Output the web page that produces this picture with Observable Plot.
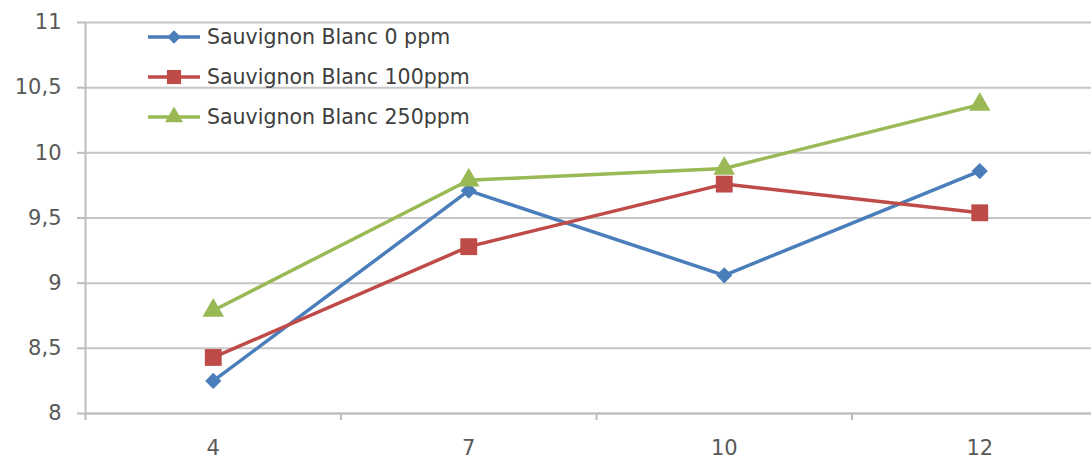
<!DOCTYPE html>
<html>
<head>
<meta charset="utf-8">
<script src="https://cdn.jsdelivr.net/npm/d3@7"></script>
<script src="https://cdn.jsdelivr.net/npm/@observablehq/plot@0.6"></script>
<style>
  html, body { margin: 0; padding: 0; background: #fff; overflow: hidden; }
  #wrap { position: relative; width: 1091px; height: 462px; overflow: hidden; }
  #legend { position: absolute; left: 0; top: 0; font-family: "DejaVu Sans", sans-serif; font-size: 20.5px; color: #404040; }
  .item { position: absolute; white-space: nowrap; }
</style>
</head>
<body>
<div id="wrap"><div id="legend"></div></div>
<script>
const categories = ["4", "7", "10", "12"];
const blanc0 = [8.25, 9.71, 9.06, 9.86];
const blanc100 = [8.43, 9.28, 9.76, 9.54];
const blanc250 = [8.79, 9.79, 9.88, 10.37];
const seriesNames = ["Sauvignon Blanc 0 ppm", "Sauvignon Blanc 100ppm", "Sauvignon Blanc 250ppm"];
const yTicks = [8, 8.5, 9, 9.5, 10, 10.5, 11];

const colors = ["#4a7ebb", "#be4b48", "#98b954"];
const symbols = ["diamond2", "square", "triangle"];
const radii = [7.3, 9.5, 8];
const d3Symbols = [d3.symbolDiamond2, d3.symbolSquare, d3.symbolTriangle];

const seriesValues = [blanc0, blanc100, blanc250];
const rows = seriesValues.map((vals, s) => vals.map((v, i) => ({i, cat: categories[i], value: v, series: seriesNames[s]})));

const boundaries = d3.range(-0.5, categories.length, 1);
const marks = [
  Plot.gridY(yTicks, {stroke: "#c6c6c6", strokeOpacity: 1, strokeWidth: 2}),
  Plot.ruleY([8], {stroke: "#bdbdbd", strokeWidth: 2}),
  Plot.ruleX([-0.5], {y1: 8, y2: 11, stroke: "#bdbdbd", strokeWidth: 2}),
  Plot.axisY({ticks: yTicks, tickFormat: d => String(d).replace(".", ","), tickSize: 8, tickPadding: 16, fontSize: 21, color: "#595959", stroke: "#bdbdbd", strokeWidth: 2, label: null}),
  Plot.axisX({ticks: boundaries, tickFormat: () => "", tickSize: 7, stroke: "#bdbdbd", strokeWidth: 2, label: null}),
  Plot.axisX({ticks: d3.range(categories.length), tickFormat: i => categories[i], tickSize: 0, tickPadding: 27, fontSize: 21, color: "#595959", label: null})
];
rows.forEach((r, s) => {
  marks.push(Plot.line(r, {x: "i", y: "value", stroke: colors[s], strokeWidth: 3.5}));
  marks.push(Plot.dot(r, {x: "i", y: "value", symbol: () => symbols[s], fill: colors[s], stroke: "none", r: radii[s]}));
});

const chart = Plot.plot({
  width: 1091,
  height: 462,
  marginLeft: 85,
  marginRight: 0,
  marginTop: 22,
  marginBottom: 49,
  x: {type: "linear", domain: [-0.5, 3.5], range: [85, 1107]},
  y: {domain: [8, 11]},
  symbol: {type: "ordinal", domain: symbols, range: symbols},
  style: {fontFamily: "DejaVu Sans, sans-serif", background: "white", overflow: "hidden"},
  marks
});
document.getElementById("wrap").insertBefore(chart, document.getElementById("legend"));

const legend = document.getElementById("legend");
const legendY = [36, 76, 116];
seriesNames.forEach((name, s) => {
  const item = document.createElement("div");
  item.className = "item";
  item.style.left = "148px";
  item.style.top = (legendY[s] - 12) + "px";
  const svg = d3.create("svg").attr("width", 56).attr("height", 24).style("vertical-align", "middle");
  svg.append("line").attr("x1", 0).attr("x2", 52).attr("y1", 12).attr("y2", 12).attr("stroke", colors[s]).attr("stroke-width", 3.5);
  svg.append("path").attr("transform", "translate(26,12)").attr("d", d3.symbol(d3Symbols[s], Math.PI * radii[s] * radii[s] * 0.7)()).attr("fill", colors[s]);
  item.appendChild(svg.node());
  const span = document.createElement("span");
  span.textContent = name;
  span.style.verticalAlign = "middle";
  span.style.marginLeft = "3px";
  item.appendChild(span);
  legend.appendChild(item);
});
</script>
</body>
</html>
